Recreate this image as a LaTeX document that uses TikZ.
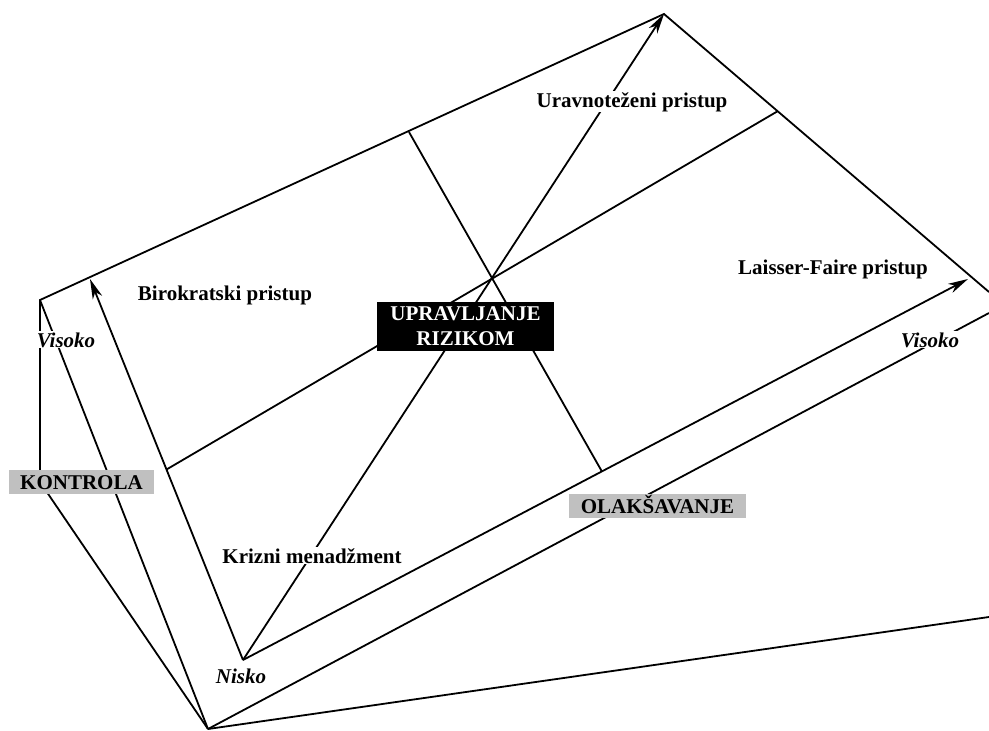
\documentclass[tikz,border=0pt]{standalone}
\usepackage{fontspec}
\setmainfont{Liberation Serif}
\usepackage{xcolor}
\usetikzlibrary{positioning, arrows.meta, calc}
\definecolor{tagGray}{RGB}{192,192,192}

\begin{document}
\begin{tikzpicture}[
        x=1pt, y=-1pt,
        line width=1.8pt,
        lbl/.style = {fill=white, inner sep=1pt, font=\fontsize{21}{25}\selectfont\bfseries},
        lvl/.style = {lbl, font=\fontsize{21}{25}\selectfont\bfseries\itshape},
        tag/.style = {fill=tagGray, inner sep=0pt, minimum height=24pt, text height=14pt, text depth=0pt, font=\fontsize{21}{25}\selectfont\bfseries},
        title/.style = {fill=black, text=white, align=center, inner sep=0pt, minimum width=177pt, minimum height=49pt, font=\fontsize{21}{25}\selectfont\bfseries},
        arrow/.style = {-{Stealth[length=20pt, width=10pt, inset=6pt]}},
    ]
        \path[use as bounding box] (0,0) rectangle (989,731);
        % frame corners
        \coordinate (A) at (40,300);
        \coordinate (T) at (664,14);
        \coordinate (R) at (989,292);
        \coordinate (K) at (40,482);
        \coordinate (B) at (208,729);
        \coordinate (E1) at (989,313);
        \coordinate (E2) at (989,617);
        % axes
        \coordinate (N) at (243,660);
        \coordinate (P) at (90,279);
        \coordinate (Q) at (968,279);
        \coordinate (D1a) at ($(N)!0.5!(P)$);
        \coordinate (D1b) at (778,111);
        \coordinate (D2a) at (409,132);
        \coordinate (D2b) at ($(N)!0.495!(Q)$);
        \draw (B) -- (K) -- (A) -- (T) -- (R);
        \draw (A) -- (B);
        \draw (B) -- (E1);
        \draw (B) -- (E2);
        \draw[arrow] (N) -- (P);
        \draw[arrow] (N) -- (Q);
        \draw[arrow] (N) -- (T);
        \draw (D1a) -- (D1b);
        \draw (D2a) -- (D2b);
        % labels
        \node[lbl, anchor=base] (biro) at (225,300) {Birokratski pristup};
        \node[lbl, anchor=base] (ravn) at (632,107) {Uravnoteženi pristup};
        \node[lbl, anchor=base] (lais) at (833,274) {Laisser-Faire pristup};
        \node[lbl, anchor=base] (kriz) at (312,563) {Krizni menadžment};
        \node[lvl, anchor=base] (visL) at (66,347) {Visoko};
        \node[lvl, anchor=base] (visR) at (930,347) {Visoko};
        \node[lvl, anchor=base, fill=none] (nisko) at (241,683) {Nisko};
        \node[title] (risk) at (465.5,326.5) {UPRAVLJANJE\\RIZIKOM};
        \node[tag, minimum width=145pt] (ctrl) at (81.5,482) {KONTROLA};
        \node[tag, minimum width=177pt] (facl) at (657.5,506) {OLAKŠAVANJE};
    \end{tikzpicture}
\end{document}
